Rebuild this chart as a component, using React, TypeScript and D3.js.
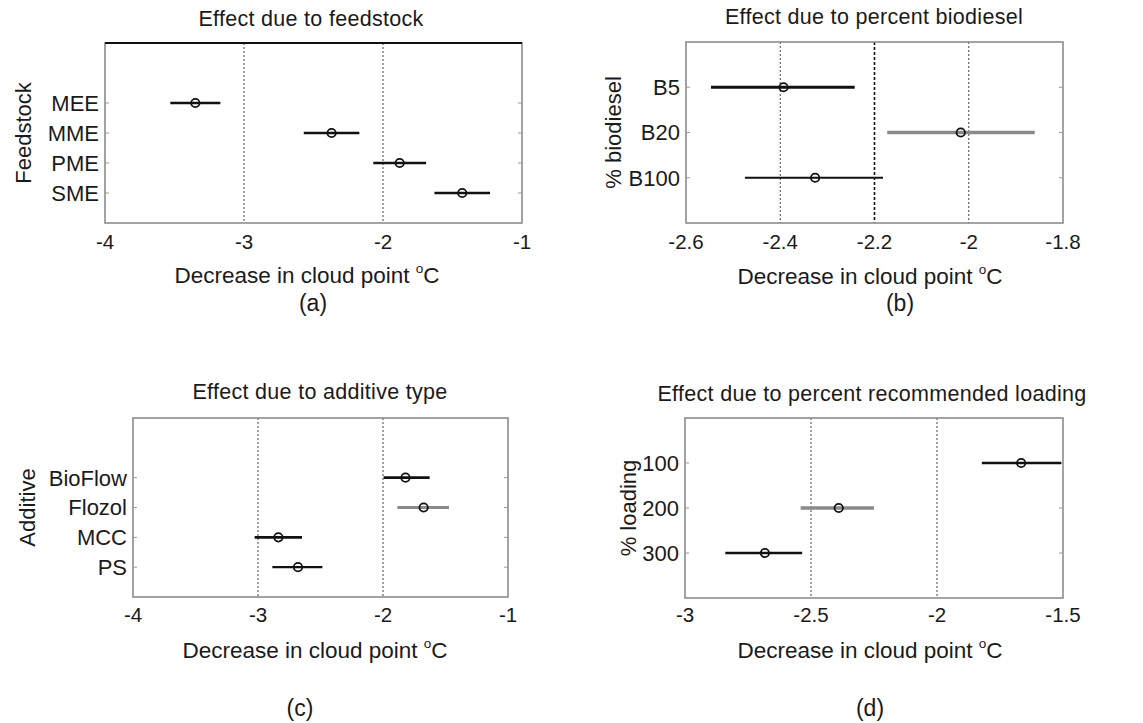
import React from "react";
import * as d3 from "d3";

// ---- data ----
const feedstockCats = ["MEE", "MME", "PME", "SME"];
const feedstockMean = [-3.35, -2.37, -1.88, -1.43];
const feedstockLow = [-3.53, -2.57, -2.07, -1.63];
const feedstockHigh = [-3.17, -2.17, -1.69, -1.23];
const feedstockTicks = [-4, -3, -2, -1];
const feedstockGrid = [-3, -2];

const biodieselCats = ["B5", "B20", "B100"];
const biodieselMean = [-2.393, -2.017, -2.326];
const biodieselLow = [-2.547, -2.173, -2.475];
const biodieselHigh = [-2.242, -1.86, -2.182];
const biodieselTicks = [-2.6, -2.4, -2.2, -2, -1.8];
const biodieselGrid = [-2.4, -2.2, -2];

const additiveCats = ["BioFlow", "Flozol", "MCC", "PS"];
const additiveMean = [-1.82, -1.675, -2.837, -2.68];
const additiveLow = [-1.995, -1.885, -3.027, -2.885];
const additiveHigh = [-1.627, -1.472, -2.648, -2.485];
const additiveTicks = [-4, -3, -2, -1];
const additiveGrid = [-3, -2];

const loadingCats = ["100", "200", "300"];
const loadingMean = [-1.666, -2.39, -2.683];
const loadingLow = [-1.822, -2.541, -2.84];
const loadingHigh = [-1.507, -2.25, -2.535];
const loadingTicks = [-3, -2.5, -2, -1.5];
const loadingGrid = [-2.5, -2];

// ---- panel layout / style ----
const FONT = "'Liberation Sans', Arial, Helvetica, sans-serif";
const BLACK = "#111";
const GRAY = "#8a8a8a";

interface Panel {
  title: string;
  ylabel: string;
  tag: string;
  cats: string[];
  mean: number[];
  low: number[];
  high: number[];
  ticks: number[];
  grid: number[];
  box: [number, number, number, number]; // x0, x1, y0, y1
  yPadTop: number;
  yPadBottom: number;
  titleX: number;
  titleY: number;
  tickY: number;
  xlabelX: number;
  xlabelY: number;
  ylabelX: number;
  tagX: number;
  tagY: number;
  colors: string[];
  widths: number[];
  gridDark: number[];
  topDark: boolean;
}

const panels: Panel[] = [
  {
    title: "Effect due to feedstock",
    ylabel: "Feedstock",
    tag: "(a)",
    cats: feedstockCats,
    mean: feedstockMean,
    low: feedstockLow,
    high: feedstockHigh,
    ticks: feedstockTicks,
    grid: feedstockGrid,
    box: [105, 522, 43, 223],
    yPadTop: 2,
    yPadBottom: 1,
    titleX: 311,
    titleY: 26,
    tickY: 249,
    xlabelX: 307,
    xlabelY: 283,
    ylabelX: 31,
    tagX: 313,
    tagY: 311,
    colors: [BLACK, BLACK, BLACK, BLACK],
    widths: [2.6, 2.6, 2.6, 2.6],
    gridDark: [],
    topDark: true,
  },
  {
    title: "Effect due to percent biodiesel",
    ylabel: "% biodiesel",
    tag: "(b)",
    cats: biodieselCats,
    mean: biodieselMean,
    low: biodieselLow,
    high: biodieselHigh,
    ticks: biodieselTicks,
    grid: biodieselGrid,
    box: [686, 1063, 42, 223],
    yPadTop: 1,
    yPadBottom: 1,
    titleX: 874,
    titleY: 24,
    tickY: 249,
    xlabelX: 870,
    xlabelY: 284,
    ylabelX: 621,
    tagX: 900,
    tagY: 311,
    colors: [BLACK, GRAY, BLACK],
    widths: [2.8, 3.5, 2],
    gridDark: [-2.2],
    topDark: false,
  },
  {
    title: "Effect due to additive type",
    ylabel: "Additive",
    tag: "(c)",
    cats: additiveCats,
    mean: additiveMean,
    low: additiveLow,
    high: additiveHigh,
    ticks: additiveTicks,
    grid: additiveGrid,
    box: [133, 508, 418, 597],
    yPadTop: 2,
    yPadBottom: 1,
    titleX: 320,
    titleY: 399,
    tickY: 622,
    xlabelX: 315,
    xlabelY: 658,
    ylabelX: 35,
    tagX: 300,
    tagY: 716,
    colors: [BLACK, GRAY, BLACK, BLACK],
    widths: [2.6, 3, 2.6, 2.4],
    gridDark: [],
    topDark: false,
  },
  {
    title: "Effect due to percent recommended loading",
    ylabel: "% loading",
    tag: "(d)",
    cats: loadingCats,
    mean: loadingMean,
    low: loadingLow,
    high: loadingHigh,
    ticks: loadingTicks,
    grid: loadingGrid,
    box: [685, 1063, 418, 598],
    yPadTop: 1,
    yPadBottom: 1,
    titleX: 872,
    titleY: 401,
    tickY: 622,
    xlabelX: 870,
    xlabelY: 658,
    ylabelX: 636,
    tagX: 870,
    tagY: 716,
    colors: [BLACK, GRAY, BLACK],
    widths: [2.6, 3.5, 2.6],
    gridDark: [],
    topDark: false,
  },
];

function PanelView({ p }: { p: Panel }) {
  const [x0, x1, y0, y1] = p.box;
  const x = d3
    .scaleLinear()
    .domain([p.ticks[0], p.ticks[p.ticks.length - 1]])
    .range([x0, x1]);
  const n = p.cats.length;
  const y = d3
    .scaleLinear()
    .domain([1 - p.yPadTop, n + p.yPadBottom])
    .range([y0, y1]);
  const yMid = (y0 + y1) / 2;
  return (
    <g fontFamily={FONT} fill="#1a1a1a">
      {/* title */}
      <text x={p.titleX} y={p.titleY} textAnchor="middle" fontSize={21.5} letterSpacing={0.3}>
        {p.title}
      </text>
      {/* grid lines */}
      {p.grid.map((g) => {
        const dark = p.gridDark.includes(g);
        return (
          <line
            key={"g" + g}
            x1={x(g)}
            x2={x(g)}
            y1={y0}
            y2={y1}
            stroke={dark ? "#111" : "#444"}
            strokeWidth={dark ? 1.6 : 1}
            strokeDasharray={dark ? "3,2" : "2,2"}
          />
        );
      })}
      {/* box */}
      <rect
        x={x0}
        y={y0}
        width={x1 - x0}
        height={y1 - y0}
        fill="none"
        stroke="#8c8c8c"
        strokeWidth={1.6}
      />
      {p.topDark && (
        <line x1={x0} x2={x1} y1={y0} y2={y0} stroke="#111" strokeWidth={2} />
      )}
      {/* y ticks (inside, both sides) */}
      {p.cats.map((c, i) => (
        <g key={"yt" + c}>
          <line x1={x0} x2={x0 + 4} y1={y(i + 1)} y2={y(i + 1)} stroke="#999" strokeWidth={1} />
          <line x1={x1 - 4} x2={x1} y1={y(i + 1)} y2={y(i + 1)} stroke="#999" strokeWidth={1} />
          <text
            x={x0 - 6}
            y={y(i + 1)}
            dy="0.36em"
            textAnchor="end"
            fontSize={22}
          >
            {c}
          </text>
        </g>
      ))}
      {/* x tick labels */}
      {p.ticks.map((t) => (
        <text key={"xt" + t} x={x(t)} y={p.tickY} textAnchor="middle" fontSize={20.5}>
          {String(t)}
        </text>
      ))}
      {/* x label */}
      <text x={p.xlabelX} y={p.xlabelY} textAnchor="middle" fontSize={22.5}>
        {"Decrease in cloud point "}
        <tspan fontSize={13.5} dy={-10}>
          o
        </tspan>
        <tspan dy={10}>C</tspan>
      </text>
      {/* y label */}
      <text
        transform={`translate(${p.ylabelX},${yMid}) rotate(-90)`}
        textAnchor="middle"
        fontSize={22}
      >
        {p.ylabel}
      </text>
      {/* intervals */}
      {p.cats.map((c, i) => (
        <g key={"iv" + c}>
          <line
            x1={x(p.low[i])}
            x2={x(p.high[i])}
            y1={y(i + 1)}
            y2={y(i + 1)}
            stroke={p.colors[i]}
            strokeWidth={p.widths[i]}
          />
          <circle
            cx={x(p.mean[i])}
            cy={y(i + 1)}
            r={4.2}
            fill="none"
            stroke="#111"
            strokeWidth={1.8}
          />
        </g>
      ))}
      {/* tag */}
      <text x={p.tagX} y={p.tagY} textAnchor="middle" fontSize={23}>
        {p.tag}
      </text>
    </g>
  );
}

export default function App() {
  return (
    <svg
      width={1143}
      height={723}
      viewBox="0 0 1143 723"
      style={{ position: "absolute", left: 0, top: 0, background: "#fff" }}
    >
      <rect x={0} y={0} width={1143} height={723} fill="#fff" />
      {panels.map((p) => (
        <PanelView key={p.tag} p={p} />
      ))}
    </svg>
  );
}
